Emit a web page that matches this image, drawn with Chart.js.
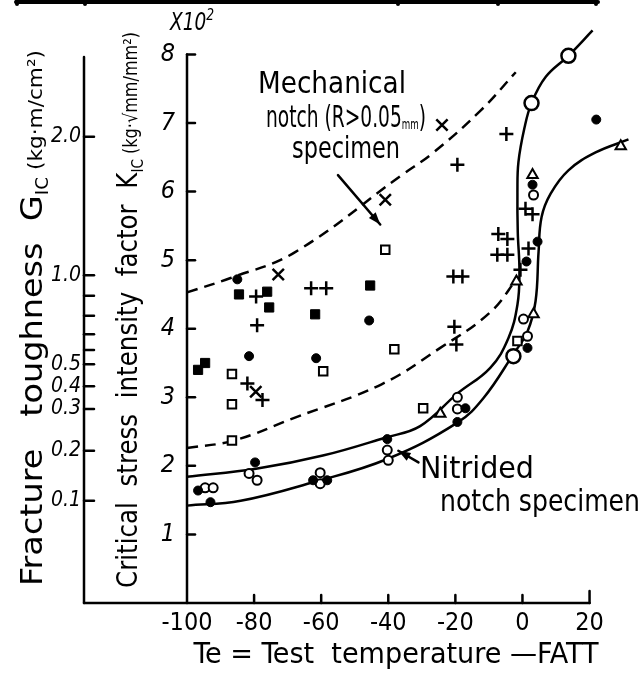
<!DOCTYPE html>
<html>
<head>
<meta charset="utf-8">
<script src="https://cdn.jsdelivr.net/npm/chart.js@4.4.0/dist/chart.umd.min.js"></script>
<style>
  html, body { margin: 0; padding: 0; background: #fff; }
  #wrap { width: 644px; height: 675px; }
</style>
</head>
<body>
<div id="wrap"><canvas id="chart" width="644" height="675"></canvas></div>
<script>
// Axis ticks
const tempTicks = [-100, -80, -60, -40, -20, 0, 20];
const kTicks = [1, 2, 3, 4, 5, 6, 7, 8];
// Fracture toughness scale (left), position of each tick read in K units
const gLabels = ['2.0', '1.0', '', '', '', '', '0.5', '0.4', '0.3', '0.2', '0.1'];
const gAtK = [6.8, 4.78, 4.48, 4.19, 3.92, 3.69, 3.48, 3.16, 2.83, 2.22, 1.49];

// Curves [T, K x10^2]
const upperDashed = [[-100, 4.53], [-87, 4.74], [-68, 5.11], [-36, 6.24], [-26.5, 6.57], [-12.5, 7.18], [-2, 7.74]];
const lowerDashed = [[-100, 2.26], [-86, 2.37], [-68, 2.70], [-42, 3.19], [-24.5, 3.72], [-9.6, 4.24], [-1.2, 4.76]];
const upperSolid = [[-100, 1.84], [-79, 1.96], [-59.5, 2.15], [-41, 2.41], [-30.5, 2.58], [-19.5, 3.05], [-9.6, 3.43],
  [-4.2, 3.86], [-1.5, 4.35], [-0.9, 4.83], [-1.4, 5.41], [-1.5, 5.99], [-1.2, 6.43], [0.6, 6.93], [2.7, 7.29],
  [6.9, 7.67], [13.7, 7.98], [20.9, 8.35]];
const lowerSolid = [[-100, 1.42], [-84, 1.49], [-62.4, 1.76], [-40.3, 2.10], [-19.4, 2.63], [-11.6, 2.99], [-2.7, 3.63],
  [1.5, 3.96], [3.9, 4.40], [4.8, 5.12], [5.7, 5.63], [8.4, 5.97], [13.7, 6.31], [21.8, 6.57], [31.6, 6.76]];

// Test points [T, K x10^2]
const filledCircles = [[-85, 4.72], [-45.7, 4.12], [-81.5, 3.60], [-61.5, 3.57], [-96.7, 1.64], [-93, 1.47], [-79.7, 2.05],
  [-62.4, 1.79], [-58.2, 1.79], [-40.3, 2.39], [-17, 2.84], [-19.4, 2.64], [3.0, 6.10], [4.5, 5.27], [1.2, 4.98], [1.5, 3.72], [22, 7.05]];
const openCircles = [[-94.6, 1.68], [-92.2, 1.68], [-81.5, 1.89], [-79.1, 1.79], [-60.3, 1.90], [-60.3, 1.74], [-40.3, 2.23],
  [-40, 2.08], [-19.4, 3.00], [-19.4, 2.83], [3.3, 5.95], [0.3, 4.14], [1.5, 3.89]];
const openSquares = [[-86.6, 2.37], [-86.6, 2.90], [-86.6, 3.34], [-59.4, 3.38], [-40.9, 5.15], [-38.2, 3.70], [-29.6, 2.84], [-1.5, 3.82]];
const filledSquares = [[-84.5, 4.50], [-76.1, 4.54], [-75.5, 4.31], [-45.4, 4.63], [-61.8, 4.21], [-96.7, 3.40], [-94.6, 3.50]];
const triangles = [[-24.5, 2.76], [3.0, 6.24], [-1.8, 4.69], [3.3, 4.21], [29.3, 6.66]];
const plusPoints = [[-79.4, 4.47], [-79.1, 4.05], [-63, 4.59], [-58.5, 4.59], [-82, 3.20], [-77.5, 2.96], [-19.4, 6.39],
  [-7.2, 5.38], [-4.5, 5.31], [-7.5, 5.08], [-4.5, 5.08], [-20.6, 4.76], [-17.9, 4.76], [-20.3, 4.03], [-19.7, 3.77],
  [0.9, 5.75], [3.0, 5.67], [1.8, 5.17], [-0.6, 4.86], [-4.8, 6.84]];
const crossPoints = [[-72.8, 4.79], [-40.9, 5.88], [-24, 6.97], [-79.5, 3.08]];
const dottedCircles = [[13.7, 7.98], [2.7, 7.29], [-2.7, 3.60]];

const FONT = "'DejaVu Sans Condensed','Liberation Sans Narrow','DejaVu Sans',sans-serif";

function toXY(arr) {
    return arr.map(p => ({ x: p[0], y: p[1] }));
}

function markers(data, style, radius, fill, width) {
    return {
        data: toXY(data),
        pointStyle: style,
        pointRadius: radius,
        pointHoverRadius: radius,
        pointBackgroundColor: fill,
        pointBorderColor: '#000',
        pointBorderWidth: width,
        showLine: false,
        clip: false
    };
}

function curve(data, dashed) {
    return {
        data: toXY(data),
        showLine: true,
        borderColor: '#000',
        borderWidth: 2.5,
        borderDash: dashed ? [11, 7] : [],
        pointRadius: 0,
        tension: 0.4,
        fill: false,
        clip: false
    };
}

// Text made of pieces (for subscripts), stretched to a given length
function richText(ctx, segs, cx, cy, len, rot) {
    let total = 0;
    segs.forEach(s => {
        ctx.font = (s.style || '') + ' ' + s.size + 'px ' + FONT;
        s.w = ctx.measureText(s.t).width;
        total += s.w;
    });
    ctx.save();
    ctx.translate(cx, cy);
    ctx.rotate(rot || 0);
    ctx.scale(len ? len / total : 1, 1);
    ctx.textAlign = 'left';
    ctx.textBaseline = 'alphabetic';
    let pos = -total / 2;
    segs.forEach(s => {
        ctx.font = (s.style || '') + ' ' + s.size + 'px ' + FONT;
        ctx.fillText(s.t, pos, s.dy || 0);
        pos += s.w;
    });
    ctx.restore();
}

function line(ctx, x1, y1, x2, y2) {
    ctx.beginPath();
    ctx.moveTo(x1, y1);
    ctx.lineTo(x2, y2);
    ctx.stroke();
}

function arrow(ctx, x1, y1, x2, y2) {
    line(ctx, x1, y1, x2, y2);
    const a = Math.atan2(y2 - y1, x2 - x1);
    ctx.beginPath();
    ctx.moveTo(x2, y2);
    ctx.lineTo(x2 - 13 * Math.cos(a - 0.35), y2 - 13 * Math.sin(a - 0.35));
    ctx.lineTo(x2 - 13 * Math.cos(a + 0.35), y2 - 13 * Math.sin(a + 0.35));
    ctx.closePath();
    ctx.fill();
}

const decor = {
    id: 'decor',
    afterDraw(chart) {
        const ctx = chart.ctx;
        const sx = chart.scales.x, sy = chart.scales.y, sg = chart.scales.y2;
        const px = v => sx.getPixelForValue(v);
        const py = v => sy.getPixelForValue(v);
        const x0 = px(-100), y0 = py(0), gx = sg.right;
        ctx.save();
        ctx.strokeStyle = '#000';
        ctx.fillStyle = '#000';
        ctx.lineCap = 'round';

        // cut-off table edge at the top
        ctx.lineWidth = 4;
        line(ctx, 16, 2, 598, 2);
        [17, 85, 398, 498, 596].forEach(v => line(ctx, v, 0, v, 4));

        // frame and axes
        ctx.lineWidth = 2.5;
        line(ctx, gx, 57, gx, y0);
        line(ctx, gx, y0, px(20), y0);
        line(ctx, px(20), y0, px(20), y0 - 12);
        line(ctx, x0, y0, x0, py(8));
        line(ctx, x0, py(8), x0 + 8, py(8));
        kTicks.slice(0, -1).forEach(k => line(ctx, x0, py(k), x0 + 8, py(k)));
        tempTicks.slice(1, -1).forEach(t => line(ctx, px(t), y0, px(t), y0 - 8));
        gAtK.forEach(k => line(ctx, gx, py(k), gx + 10, py(k)));

        // axis titles
        richText(ctx, [
            { t: 'Te = Test  temperature —FATT', size: 29 }
        ], 396, 663, 405);
        richText(ctx, [
            { t: 'Fracture   toughness  G', size: 31 },
            { t: 'IC', size: 17, dy: 6 },
            { t: ' (kg·m/cm²)', size: 20 }
        ], 42, 318, 536, -Math.PI / 2);
        richText(ctx, [
            { t: 'Critical  stress  intensity  factor  K', size: 29 },
            { t: 'IC', size: 16, dy: 6 },
            { t: ' (kg·√mm/mm²)', size: 19 }
        ], 137, 310, 556, -Math.PI / 2);
        richText(ctx, [
            { t: 'X10', size: 24, style: 'italic' },
            { t: '2', size: 16, dy: -10, style: 'italic' }
        ], 192, 30, 44);

        // notes
        richText(ctx, [{ t: 'Mechanical', size: 30 }], 332, 93, 148);
        richText(ctx, [
            { t: 'notch (R>0.05', size: 30 },
            { t: 'mm', size: 14, dy: 2 },
            { t: ')', size: 30 }
        ], 346, 127, 160);
        richText(ctx, [{ t: 'specimen', size: 30 }], 346, 158, 108);
        richText(ctx, [{ t: 'Nitrided', size: 30 }], 477, 478, 114);
        richText(ctx, [{ t: 'notch specimen', size: 30 }], 540, 511, 200);

        ctx.lineWidth = 2.5;
        arrow(ctx, px(-55), py(6.24), px(-42.4), py(5.52));
        arrow(ctx, px(-31), py(2.05), px(-37), py(2.22));
        ctx.restore();
    }
};

new Chart(document.getElementById('chart'), {
    type: 'scatter',
    data: {
        datasets: [
            markers(dottedCircles, 'circle', 7, '#fff', 2.5),
            markers(filledCircles, 'circle', 4.5, '#000', 1),
            markers(openCircles, 'circle', 4.5, '#fff', 2),
            markers(openSquares, 'rect', 6, '#fff', 2),
            markers(filledSquares, 'rect', 6.5, '#000', 1),
            markers(triangles, 'triangle', 6, '#fff', 2),
            markers(plusPoints, 'cross', 7, '#000', 2.5),
            markers(crossPoints, 'crossRot', 8, '#000', 2.5),
            curve(upperSolid, false),
            curve(lowerSolid, false),
            curve(upperDashed, true),
            curve(lowerDashed, true)
        ]
    },
    options: {
        responsive: false,
        animation: false,
        events: [],
        // x runs past 20 so the curve ends and points right of the axis are drawn
        layout: { padding: { top: 24, right: 1.4, left: 0, bottom: 0 } },
        plugins: {
            legend: { display: false },
            tooltip: { enabled: false }
        },
        scales: {
            x: {
                type: 'linear',
                min: -100,
                max: 33.1,
                grid: { display: false, drawTicks: false },
                border: { display: false },
                afterBuildTicks: s => { s.ticks = tempTicks.map(v => ({ value: v })); },
                afterFit: s => { s.height = 72; },
                ticks: {
                    color: '#000',
                    padding: 5,
                    maxRotation: 0,
                    autoSkip: false,
                    font: { family: FONT, size: 25 }
                }
            },
            y: {
                type: 'linear',
                position: 'left',
                weight: 0,
                min: 0,
                max: 8.4,
                grid: { display: false, drawTicks: false },
                border: { display: false },
                afterBuildTicks: s => { s.ticks = kTicks.map(v => ({ value: v })); },
                afterFit: s => { s.width = 103; },
                ticks: {
                    color: '#000',
                    padding: 12,
                    autoSkip: false,
                    font: { family: FONT, size: 25, style: 'italic' }
                }
            },
            y2: {
                type: 'linear',
                position: 'left',
                weight: 1,
                min: 0,
                max: 8.4,
                grid: { display: false, drawTicks: false },
                border: { display: false },
                afterBuildTicks: s => { s.ticks = gAtK.map(v => ({ value: v })); },
                afterFit: s => { s.width = 84; },
                ticks: {
                    color: '#000',
                    padding: 3,
                    autoSkip: false,
                    font: { family: FONT, size: 21, style: 'italic' },
                    callback: (value, index) => gLabels[index]
                }
            }
        }
    },
    plugins: [decor]
});
</script>
</body>
</html>
